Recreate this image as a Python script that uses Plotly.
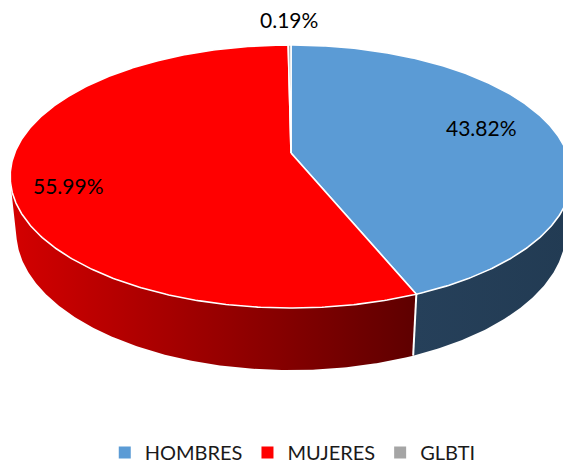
import numpy as np
import plotly.graph_objects as go

# ---- data ----
categories = ["HOMBRES", "MUJERES", "GLBTI"]
values = [43.82, 55.99, 0.19]
value_labels = ["43.82%", "55.99%", "0.19%"]

# ---- style ----
top_colors = ["#5B9BD5", "#FF0000", "#A5A5A5"]
wall_scales = [
    [[0, "#26405A"], [1, "#223B53"]],
    [[0, "#D40000"], [1, "#5E0000"]],
    [[0, "#7F7F7F"], [1, "#5F5F5F"]],
]
label_style = [(0.72, -8), (0.80, 12), (1.22, -6)]  # radial factor, y nudge (px)
FONT = "Lato"

W, H = 563, 472
LEG_DROP = 8  # px the legend box reaches below the plot area (margin pushed by same amount)
# camera / projection parameters (3D pie look)
alpha = np.radians(27.8)
L = 4.955
F = 1353.0
KX = 1.012
X0, Y0 = 291.0, 153.0
DEPTH = 0.2306

C = np.array([0.0, L * np.sin(alpha), L * np.cos(alpha)])
fwd = np.array([0.0, -np.sin(alpha), -np.cos(alpha)])
up = np.array([0.0, np.cos(alpha), -np.sin(alpha)])


def proj(x, y, z):
    x = np.asarray(x, float)
    P = np.stack([x, np.asarray(y, float) * np.ones_like(x), np.asarray(z, float)], axis=-1)
    d = P - C
    dep = d @ fwd
    sx = KX * F * d[..., 0] / dep
    sy = F * (d @ up) / dep
    return X0 + sx, Y0 - sy


def arc(a, b, r=1.0, y=0.0, n=None):
    if n is None:
        n = max(2, int(abs(b - a) * 2) + 2)
    phi = np.radians(np.linspace(a, b, n))
    return proj(r * np.sin(phi), y * np.ones_like(phi), -r * np.cos(phi))


total = sum(values)
bounds = np.concatenate([[0], np.cumsum(values) / total * 360.0])

# visible wall range: cos(phi) < -1/(L cos alpha)
lim = np.degrees(np.arccos(-1.0 / (L * np.cos(alpha))))
vis_a, vis_b = lim, 360 - lim

fig = go.Figure()

# walls
for i in range(len(values)):
    a, b = bounds[i], bounds[i + 1]
    lo, hi = max(a, vis_a), min(b, vis_b)
    if hi <= lo:
        continue
    tx, ty = arc(lo, hi)
    bx, by = arc(lo, hi, y=-DEPTH)
    xs = np.concatenate([tx, bx[::-1], tx[:1]])
    ys = np.concatenate([ty, by[::-1], ty[:1]])
    fig.add_trace(go.Scatter(
        x=xs, y=ys, mode="lines", fill="toself", line=dict(width=0),
        fillcolor=top_colors[i],
        fillgradient=dict(type="horizontal", colorscale=wall_scales[i],
                          start=float(xs.min()), stop=float(xs.max())),
        hoverinfo="skip", showlegend=False))

# wall separators
for k in range(1, len(bounds) - 1):
    ang = bounds[k]
    if vis_a < ang < vis_b:
        px, py = proj(np.array([np.sin(np.radians(ang))] * 2), np.array([0.0, -DEPTH]),
                      np.array([-np.cos(np.radians(ang))] * 2))
        fig.add_trace(go.Scatter(x=px, y=py, mode="lines", line=dict(color="white", width=2),
                                 hoverinfo="skip", showlegend=False))

# top faces
cx, cy = proj(np.array([0.0]), np.array([0.0]), np.array([0.0]))
for i in range(len(values)):
    a, b = bounds[i], bounds[i + 1]
    ax_, ay_ = arc(a, b)
    xs = np.concatenate([cx, ax_, cx])
    ys = np.concatenate([cy, ay_, cy])
    fig.add_trace(go.Scatter(
        x=xs, y=ys, mode="lines", fill="toself", fillcolor=top_colors[i],
        line=dict(color="white", width=1.6), hoverinfo="skip", showlegend=False))

# labels
for i in range(len(values)):
    mid = np.radians((bounds[i] + bounds[i + 1]) / 2)
    r, dy = label_style[i]
    lx, ly = proj(np.array([r * np.sin(mid)]), np.array([0.0]), np.array([-r * np.cos(mid)]))
    fig.add_annotation(x=float(lx[0]), y=float(ly[0]) + dy, text=value_labels[i], showarrow=False,
                       font=dict(family=FONT, size=21, color="#000000"),
                       xanchor="center", yanchor="middle")

# legend entries
for i, name in enumerate(categories):
    fig.add_trace(go.Scatter(x=[None], y=[None], mode="markers", name=name,
                             marker=dict(symbol="square", size=8, color=top_colors[i])))

plot_h = H - LEG_DROP
fig.update_layout(
    width=W, height=H, margin=dict(l=0, r=0, t=0, b=0),
    paper_bgcolor="white", plot_bgcolor="white",
    xaxis=dict(range=[0, W], visible=False, fixedrange=True),
    yaxis=dict(range=[plot_h, 0], visible=False, fixedrange=True),
    showlegend=True,
    legend=dict(orientation="h", x=0.52, xanchor="center", y=-LEG_DROP / plot_h, yanchor="bottom",
                font=dict(family=FONT, size=20, color="#1a1a1a"), itemsizing="constant",
                bgcolor="rgba(0,0,0,0)", itemclick=False, itemdoubleclick=False),
)

fig.write_html("out.html", config={"displayModeBar": False},
               post_script="document.body.style.margin='0';")
